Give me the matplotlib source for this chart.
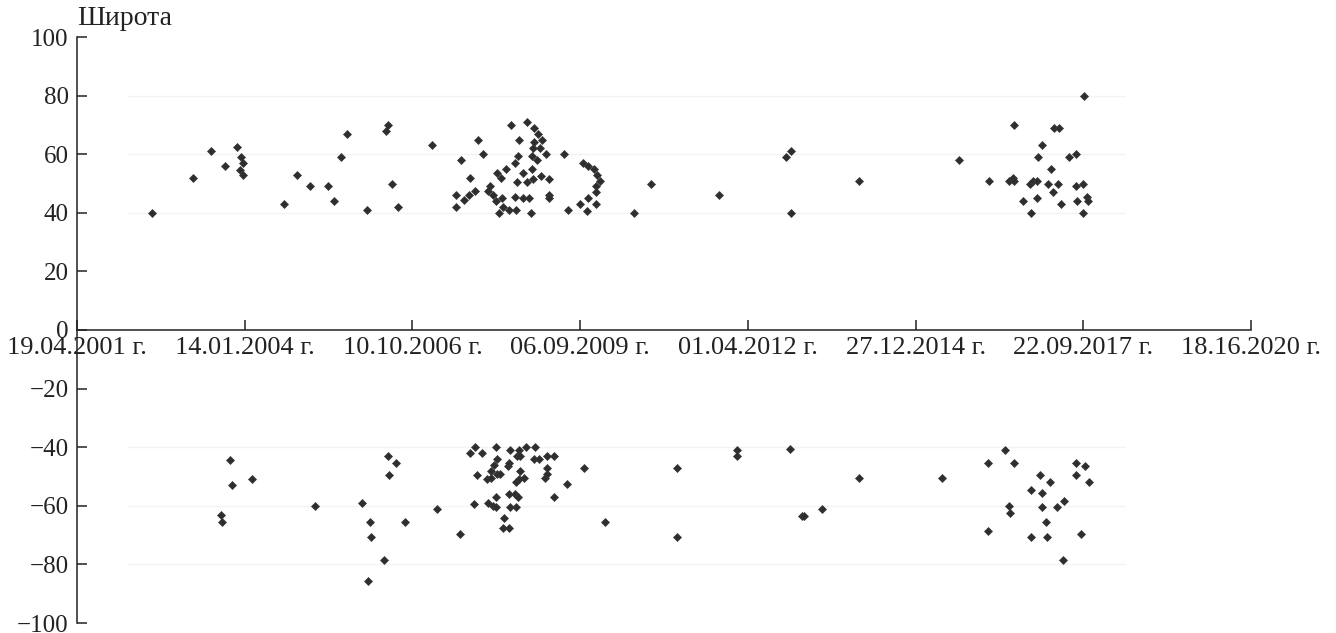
import matplotlib
matplotlib.use('Agg')
import matplotlib.pyplot as plt

# даты в виде серийных номеров Excel (дни), широта в градусах
north_day = [37449, 37690, 37801, 37883, 37956, 37976, 37990, 37972, 37990, 38234,
             38314, 38391, 38497, 38534, 38572, 38608, 38729, 38841, 38853, 38878,
             38916, 39115, 39260, 39260, 39288, 39308, 39339, 39345, 39373, 39389,
             39423, 39453, 39463, 39479, 39498, 39506, 39518, 39528, 39532, 39542,
             39558, 39578, 39586, 39612, 39612, 39618, 39626, 39628, 39636, 39661,
             39661, 39682, 39685, 39697, 39705, 39711, 39711, 39717, 39721, 39725,
             39727, 39741, 39751, 39761, 39767, 39775, 39795, 39816, 39816, 39816,
             39906, 39930, 39999, 40016, 40039, 40049, 40049, 40085, 40095, 40095,
             40095, 40103, 40119, 40323, 40421, 40828, 41226, 41256, 41258, 41665,
             42258, 42440, 42556, 42583, 42587, 42587, 42639, 42683, 42689, 42699,
             42723, 42726, 42729, 42756, 42792, 42806, 42818, 42826, 42848, 42857,
             42869, 42917, 42955, 42957, 42965, 43001, 43001, 43007, 43024, 43030]
north_lat = [40, 52, 61, 56, 62.5, 59, 57, 54.5, 53, 43,
             53, 49, 49, 44, 59, 67, 41, 68, 70, 50,
             42, 63, 46, 42, 58, 44.5, 46, 52, 47.5, 65,
             60, 47.5, 49, 46, 44, 53.5, 40, 52, 45, 42,
             55, 41, 70, 57, 45.5, 41, 50.5, 59.5, 65, 53.5,
             45, 50.5, 71, 45, 40, 59.5, 55, 62, 51.5, 69,
             64, 58, 67, 62, 52.5, 65, 60, 51.5, 46, 45,
             60, 41, 43, 57, 40.5, 56, 45, 55, 49, 47,
             43, 53, 51, 40, 50, 46, 59, 61, 40, 51,
             58, 51, 51, 52, 51, 70, 44, 50, 40, 51,
             45, 51, 59, 63, 50, 55, 47, 69, 50, 69,
             43, 59, 60, 49, 44, 50, 40, 80, 45.5, 44]

south_day = [37859, 37866, 37911, 37926, 38044, 38417, 38699, 38735, 38747, 38755,
             38832, 38856, 38860, 38904, 38958, 39147, 39282, 39343, 39367, 39373,
             39387, 39413, 39443, 39453, 39467, 39469, 39479, 39487, 39498, 39498,
             39498, 39503, 39506, 39522, 39542, 39546, 39572, 39578, 39578, 39578,
             39582, 39582, 39612, 39616, 39618, 39622, 39628, 39637, 39637, 39642,
             39642, 39665, 39677, 39725, 39731, 39757, 39791, 39801, 39804, 39804,
             39844, 39844, 39924, 40023, 40148, 40580, 40580, 40937, 40937, 41252,
             41321, 41335, 41444, 41665, 42160, 42434, 42434, 42535, 42558, 42565,
             42586, 42689, 42689, 42741, 42753, 42756, 42776, 42782, 42804, 42846,
             42878, 42886, 42955, 42955, 42989, 43011, 43035]
south_lat = [-63, -65.5, -44.5, -53, -51, -60, -59, -85.5, -65.5, -70.5,
             -78.5, -43, -49.5, -45.5, -65.5, -61, -69.5, -42, -59.5, -40,
             -49.5, -42, -51, -59, -48, -50.5, -60, -46, -40, -57,
             -60.5, -44, -49, -49, -67.5, -64, -46.5, -45.5, -56, -67.5,
             -41, -60.5, -56, -52, -60.5, -43, -57, -41, -51, -43,
             -48, -50.5, -40, -44, -40, -44, -50.5, -49, -43, -47,
             -43, -57, -52.5, -47, -65.5, -47, -70.5, -41, -43, -40.5,
             -63.5, -63.5, -61, -50.5, -50.5, -45.5, -68.5, -41, -60, -62.5,
             -45.5, -54.5, -70.5, -49.5, -55.5, -60.5, -65.5, -70.5, -52, -60.5,
             -78.5, -58.5, -45.5, -49.5, -69.5, -46.5, -52]

tick_days = [37000, 38000, 39000, 40000, 41000, 42000, 43000, 44000]
tick_labels = ['19.04.2001 г.', '14.01.2004 г.', '10.10.2006 г.', '06.09.2009 г.',
               '01.04.2012 г.', '27.12.2014 г.', '22.09.2017 г.', '18.16.2020 г.']
y_ticks = [-100, -80, -60, -40, -20, 0, 20, 40, 60, 80, 100]

plt.rcParams['font.family'] = ['Liberation Serif', 'DejaVu Serif']
plt.rcParams['font.size'] = 18
plt.rcParams['axes.unicode_minus'] = True

fig = plt.figure(figsize=(13.36, 6.33), dpi=100)
ax = fig.add_axes([77/1336, 1 - 623/633, (1251-77)/1336, (623-37)/633])

# бледные линии сетки, как на исходнике
for lvl in [80, 60, 40, -40, -60, -80]:
    ax.hlines(lvl, 37300, 43250, color='#f3f3f3', lw=1, zorder=0)

ax.plot(north_day, north_lat, 'D', ms=4.5, color='#2e2e2e', mec='#3a3a3a', mew=0.5)
ax.plot(south_day, south_lat, 'D', ms=4.5, color='#2e2e2e', mec='#3a3a3a', mew=0.5)

ax.set_xlim(37000, 44000)
ax.set_ylim(-100, 100)
ax.spines['top'].set_visible(False)
ax.spines['right'].set_visible(False)
ax.spines['bottom'].set_position(('data', 0))
for s in ['left', 'bottom']:
    ax.spines[s].set_linewidth(1.1)
    ax.spines[s].set_color('#222222')

ax.set_xticks(tick_days)
ax.set_xticklabels(tick_labels, fontsize=19)
ax.set_yticks(y_ticks)
ax.tick_params(axis='x', direction='in', length=7, width=1.1, pad=5, colors='#222222')
ax.tick_params(axis='y', direction='in', length=7, width=1.1, pad=6, colors='#222222')

ax.text(0, 1.01, 'Широта', transform=ax.transAxes, ha='left', va='bottom',
        fontsize=20, color='#222222')

fig.savefig('out.png', dpi=100)
